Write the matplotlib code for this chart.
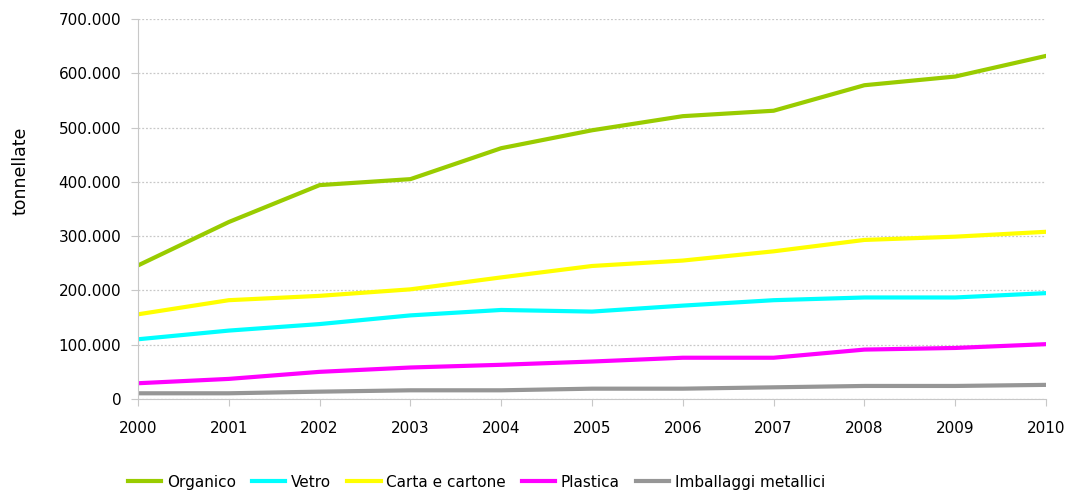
import matplotlib
matplotlib.use("Agg")
import matplotlib.pyplot as plt
from matplotlib.ticker import FuncFormatter, MultipleLocator

# raccolta differenziata, tonnellate
anni = [2000, 2001, 2002, 2003, 2004, 2005, 2006, 2007, 2008, 2009, 2010]
organico = [246000, 326000, 394000, 405000, 462000, 495000, 521000, 531000, 578000, 594000, 632000]
vetro = [110000, 126000, 138000, 154000, 164000, 161000, 172000, 182000, 187000, 187000, 195000]
carta = [156000, 182000, 190000, 202000, 224000, 245000, 255000, 272000, 293000, 299000, 308000]
plastica = [29000, 37000, 50000, 58000, 63000, 69000, 76000, 76000, 91000, 94000, 101000]
metalli = [10500, 10500, 13500, 16000, 16000, 19000, 19000, 21500, 24000, 24000, 26000]

serie = [
    ("Organico", organico, "#99cc00"),
    ("Vetro", vetro, "#00ffff"),
    ("Carta e cartone", carta, "#ffff00"),
    ("Plastica", plastica, "#ff00ff"),
    ("Imballaggi metallici", metalli, "#969696"),
]

plt.rcParams['font.family'] = ['DejaVu Sans']

fig = plt.figure(figsize=(10.68, 4.91), dpi=100)
ax = fig.add_axes([0.1292, 0.1874, 0.9794 - 0.1292, 0.9613 - 0.1874])

for nome, valori, colore in serie:
    ax.plot(anni, valori, color=colore, lw=3.0, label=nome)

ax.set_xlim(2000, 2010)
ax.set_ylim(0, 700000)
ax.set_xticks(anni)
ax.yaxis.set_major_locator(MultipleLocator(100000))
ax.yaxis.set_major_formatter(FuncFormatter(lambda v, p: f"{int(v):,}".replace(",", ".")))

ax.grid(axis='y', color='#c8c8c8', linestyle=(0, (1.5, 1.5)), lw=0.9)
ax.set_axisbelow(True)
for s in ('top', 'right'):
    ax.spines[s].set_visible(False)
ax.spines['left'].set_color('#c8c8c8')
ax.spines['bottom'].set_color('#c8c8c8')
ax.tick_params(axis='both', colors='#c8c8c8', labelcolor='black', labelsize=11, length=5)
ax.tick_params(axis='x', pad=11)
ax.tick_params(axis='y', pad=7)

ax.set_ylabel("tonnellate", fontsize=12.5)
ax.yaxis.set_label_coords(-0.119, 0.6)

fig.legend(loc='lower center', bbox_to_anchor=(0.446, -0.025), ncol=5, frameon=False,
           fontsize=11, handlelength=2.2, columnspacing=1.05, handletextpad=0.35)

fig.savefig("out.png", dpi=100)
